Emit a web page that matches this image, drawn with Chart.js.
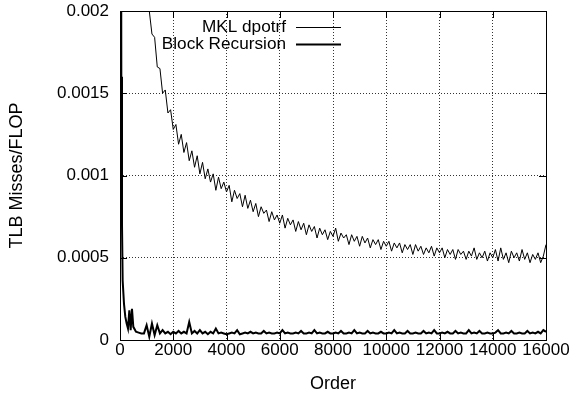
<!DOCTYPE html>
<html>
<head>
<meta charset="utf-8">
<script src="https://cdn.jsdelivr.net/npm/chart.js@4"></script>
<style>
  html, body { margin: 0; padding: 0; background: #fff; }
</style>
</head>
<body>
<canvas id="tlbChart" width="574" height="396"></canvas>
<script>
const orders = [
    25, 50, 75, 100, 150, 200, 250, 300, 350, 400, 450, 500,
    600, 700, 800, 900,
    1000, 1100, 1200, 1300, 1400, 1500, 1600, 1700, 1800, 1900,
    2000, 2100, 2200, 2300, 2400, 2500, 2600, 2700, 2800, 2900,
    3000, 3100, 3200, 3300, 3400, 3500, 3600, 3700, 3800, 3900,
    4000, 4100, 4200, 4300, 4400, 4500, 4600, 4700, 4800, 4900,
    5000, 5100, 5200, 5300, 5400, 5500, 5600, 5700, 5800, 5900,
    6000, 6100, 6200, 6300, 6400, 6500, 6600, 6700, 6800, 6900,
    7000, 7100, 7200, 7300, 7400, 7500, 7600, 7700, 7800, 7900,
    8000, 8100, 8200, 8300, 8400, 8500, 8600, 8700, 8800, 8900,
    9000, 9100, 9200, 9300, 9400, 9500, 9600, 9700, 9800, 9900,
    10000, 10100, 10200, 10300, 10400, 10500, 10600, 10700, 10800, 10900,
    11000, 11100, 11200, 11300, 11400, 11500, 11600, 11700, 11800, 11900,
    12000, 12100, 12200, 12300, 12400, 12500, 12600, 12700, 12800, 12900,
    13000, 13100, 13200, 13300, 13400, 13500, 13600, 13700, 13800, 13900,
    14000, 14100, 14200, 14300, 14400, 14500, 14600, 14700, 14800, 14900,
    15000, 15100, 15200, 15300, 15400, 15500, 15600, 15700, 15800, 15900,
    16000
];

// MKL dpotrf: off the top of the plot below ~1000
const mklDpotrf = [
    null, null, null, null, null, null, null, null, null, null, null, null,
    null, null, null, null,
    0.00232, 0.00200, 0.00186, 0.00184, 0.00166, 0.00165, 0.00150, 0.00152, 0.00138, 0.00140,
    0.00128, 0.00131, 0.00119, 0.00125, 0.00114, 0.00120, 0.00109, 0.00115, 0.00105, 0.00112,
    0.00101, 0.00108, 0.00098, 0.00104, 0.00096, 0.00101, 0.00091, 0.00099, 0.00092, 0.00096,
    0.00090, 0.00094, 0.00084, 0.00091, 0.00086, 0.00089, 0.00081, 0.00088, 0.00080, 0.00085,
    0.00078, 0.00083, 0.00075, 0.00081, 0.00077, 0.00079, 0.00072, 0.00078, 0.00073, 0.00076,
    0.00071, 0.00076, 0.00068, 0.00074, 0.00070, 0.00073, 0.00066, 0.00072, 0.00067, 0.00071,
    0.00064, 0.00070, 0.00066, 0.00069, 0.00062, 0.00068, 0.00064, 0.00067, 0.00061, 0.00066,
    0.00063, 0.00068, 0.00060, 0.00065, 0.00062, 0.00064, 0.00058, 0.00064, 0.00060, 0.00063,
    0.00057, 0.00063, 0.00059, 0.00062, 0.00056, 0.00061, 0.00058, 0.00061, 0.00055, 0.00060,
    0.00057, 0.00060, 0.00054, 0.00059, 0.00056, 0.00059, 0.00053, 0.00058, 0.00055, 0.00058,
    0.00052, 0.00058, 0.00054, 0.00057, 0.00052, 0.00056, 0.00053, 0.00057, 0.00051, 0.00056,
    0.00053, 0.00056, 0.00050, 0.00055, 0.00052, 0.00055, 0.00049, 0.00055, 0.00052, 0.00054,
    0.00049, 0.00054, 0.00051, 0.00056, 0.00049, 0.00053, 0.00050, 0.00054, 0.00048, 0.00053,
    0.00050, 0.00055, 0.00048, 0.00056, 0.00049, 0.00053, 0.00047, 0.00054, 0.00050, 0.00053,
    0.00048, 0.00055, 0.00049, 0.00053, 0.00047, 0.00052, 0.00049, 0.00053, 0.00047, 0.00051,
    0.00058
];

const blockRecursion = [
    0.0045, 0.0016, 0.0007, 0.00036, 0.00022, 0.00014, 0.0001, 0.00007, 0.00018, 0.00006, 0.00019, 0.00008,
    0.00005, 0.000045, 0.00004, 0.00004,
    0.00009, 0.00002, 0.0001, 0.00003, 0.00009, 0.00004, 0.00006, 0.00004, 0.00005, 0.000035,
    0.00005, 0.00004, 0.000055, 0.00004, 0.00005, 0.00004, 0.00011, 0.00004, 0.000055, 0.00004,
    0.00006, 0.00004, 0.00005, 0.000035, 0.00005, 0.00004, 0.00007, 0.00004, 0.000045, 0.00004,
    0.000035, 0.00004, 0.000045, 0.00004, 0.00006, 0.000035, 0.00004, 0.000045, 0.00004, 0.00005,
    0.00004, 0.000045, 0.00004, 0.00004, 0.000055, 0.00004, 0.000045, 0.00004, 0.00004, 0.000045,
    0.00004, 0.00006, 0.00004, 0.000045, 0.00004, 0.00004, 0.000045, 0.00004, 0.000055, 0.00004,
    0.00004, 0.000045, 0.00004, 0.00006, 0.00004, 0.000045, 0.00004, 0.00004, 0.00005, 0.00004,
    0.00004, 0.000045, 0.00004, 0.000055, 0.00004, 0.00004, 0.000045, 0.00004, 0.00006, 0.00004,
    0.000045, 0.00004, 0.00004, 0.000055, 0.00004, 0.000045, 0.00004, 0.00004, 0.00005, 0.00004,
    0.00004, 0.000045, 0.00004, 0.00006, 0.00004, 0.000045, 0.00004, 0.00004, 0.000055, 0.00004,
    0.00004, 0.000045, 0.00004, 0.00004, 0.000055, 0.00004, 0.000045, 0.00004, 0.00006, 0.00004,
    0.00004, 0.000045, 0.00004, 0.00005, 0.00004, 0.00004, 0.000055, 0.00004, 0.000045, 0.00004,
    0.00004, 0.00006, 0.00004, 0.000045, 0.00004, 0.000055, 0.00004, 0.00004, 0.000045, 0.00004,
    0.00004, 0.000045, 0.00006, 0.00004, 0.00004, 0.000045, 0.00004, 0.000055, 0.00004, 0.00004,
    0.000045, 0.00004, 0.00004, 0.000055, 0.00004, 0.000045, 0.00004, 0.00005, 0.00004, 0.00006,
    0.00005
];

const seriesNames = ['MKL dpotrf', 'Block Recursion'];
const seriesWidths = [1, 2];
const xTicks = [0, 2000, 4000, 6000, 8000, 10000, 12000, 14000, 16000];
const yTicks = [0, 0.0005, 0.001, 0.0015, 0.002];
const yTickLabels = ['0', '0.0005', '0.001', '0.0015', '0.002'];

const FONT = "'Liberation Sans', Arial, sans-serif";

// gnuplot look: solid frame, inward ticks on all four sides, legend inside
const gnuplotFrame = {
    id: 'gnuplotFrame',
    afterDatasetsDraw(chart) {
        const { ctx, chartArea: a, scales: { x, y } } = chart;
        const tick = 7;
        ctx.save();
        ctx.strokeStyle = '#000';
        ctx.lineWidth = 1;
        ctx.beginPath();
        xTicks.forEach(v => {
            const px = Math.round(x.getPixelForValue(v)) + 0.5;
            ctx.moveTo(px, a.bottom); ctx.lineTo(px, a.bottom - tick);
            ctx.moveTo(px, a.top); ctx.lineTo(px, a.top + tick);
        });
        yTicks.forEach(v => {
            const py = Math.round(y.getPixelForValue(v)) + 0.5;
            ctx.moveTo(a.left, py); ctx.lineTo(a.left + tick, py);
            ctx.moveTo(a.right, py); ctx.lineTo(a.right - tick, py);
        });
        ctx.stroke();
        ctx.strokeRect(Math.round(a.left) + 0.5, Math.round(a.top) + 0.5,
            Math.round(a.right - a.left), Math.round(a.bottom - a.top));

        // legend
        ctx.font = '17.2px ' + FONT;
        ctx.fillStyle = '#000';
        ctx.textAlign = 'right';
        ctx.textBaseline = 'middle';
        const textRight = a.left + 166;
        chart.data.datasets.forEach((ds, i) => {
            const ly = a.top + 16 + i * 17;
            ctx.fillText(ds.label, textRight, ly);
            ctx.lineWidth = ds.borderWidth;
            ctx.beginPath();
            ctx.moveTo(textRight + 10, ly + 0.5);
            ctx.lineTo(textRight + 55, ly + 0.5);
            ctx.stroke();
        });
        ctx.restore();
    }
};

const dataFor = vals => orders.map((o, i) => ({ x: o, y: vals[i] }));

new Chart(document.getElementById('tlbChart'), {
    type: 'line',
    data: {
        datasets: [mklDpotrf, blockRecursion].map((vals, i) => ({
            label: seriesNames[i],
            data: dataFor(vals),
            borderColor: '#000',
            borderWidth: seriesWidths[i],
            pointRadius: 0,
            tension: 0,
            fill: false,
            spanGaps: false
        }))
    },
    options: {
        responsive: false,
        animation: false,
        layout: { padding: { left: 0, right: 28, top: 11, bottom: 0 } },
        plugins: { legend: { display: false }, tooltip: { enabled: false } },
        scales: {
            x: {
                type: 'linear',
                min: 0,
                max: 16000,
                afterBuildTicks: s => { s.ticks = xTicks.map(v => ({ value: v })); },
                afterFit: s => { s.height = 56; s.paddingLeft = 0; s.paddingRight = 0; },
                ticks: {
                    color: '#000', font: { family: FONT, size: 17 }, padding: 0, maxRotation: 0, autoSkip: false,
                    callback: v => String(v)
                },
                grid: { color: '#333', lineWidth: 1, drawTicks: false, borderDash: [1, 2] },
                border: { display: false, dash: [1, 2] },
                title: { display: true, text: 'Order', color: '#000', font: { family: FONT, size: 18 }, padding: { top: 0, bottom: 1 } }
            },
            y: {
                min: 0,
                max: 0.002,
                afterBuildTicks: s => { s.ticks = yTicks.map(v => ({ value: v })); },
                afterFit: s => { s.width = 120; s.paddingTop = 0; s.paddingBottom = 0; },
                ticks: {
                    color: '#000', font: { family: FONT, size: 17 }, padding: 11,
                    callback: v => yTickLabels[yTicks.indexOf(v)] ?? String(v)
                },
                grid: { color: '#333', lineWidth: 1, drawTicks: false, borderDash: [1, 2] },
                border: { display: false, dash: [1, 2] },
                title: { display: true, text: 'TLB Misses/FLOP', color: '#000', font: { family: FONT, size: 18 }, padding: { top: 6, bottom: 0 } }
            }
        }
    },
    plugins: [gnuplotFrame]
});
</script>
</body>
</html>
